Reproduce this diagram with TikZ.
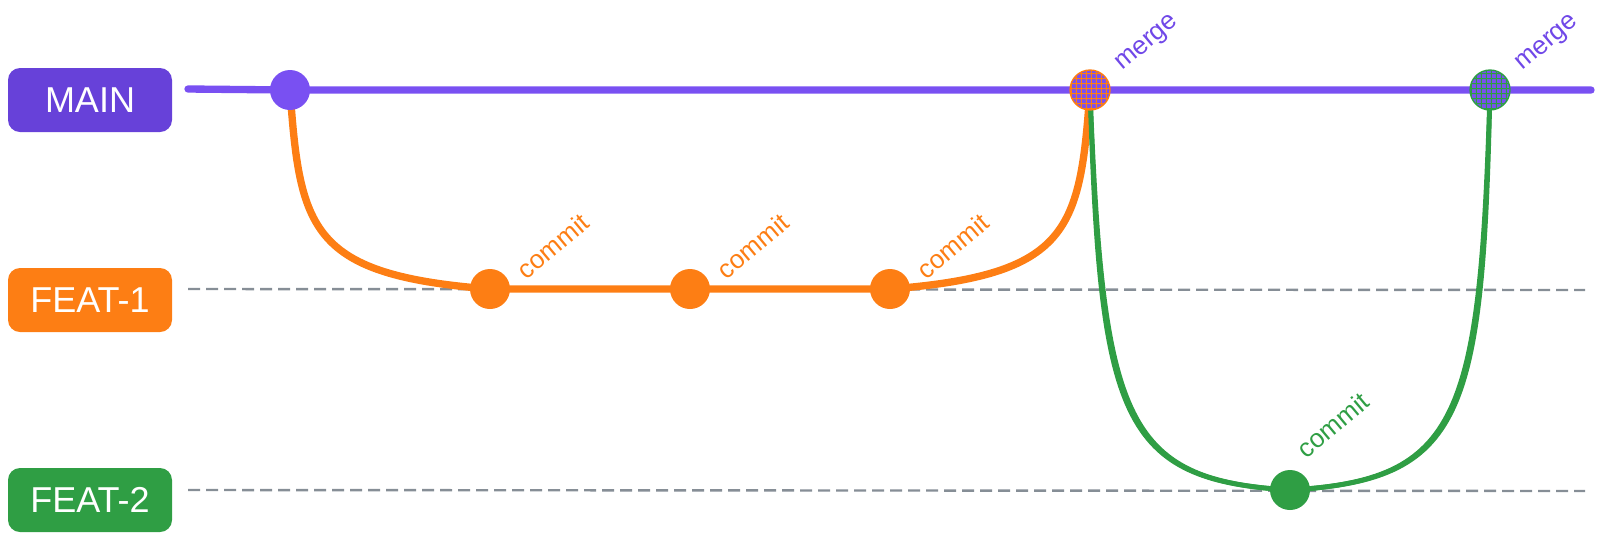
\documentclass[tikz,border=0pt]{standalone}
\usepackage{fontspec}
\setmainfont{Liberation Sans}
\usetikzlibrary{patterns.meta,backgrounds}

\definecolor{mainc}{HTML}{7950F2}
\definecolor{mainbox}{HTML}{6741D9}
\definecolor{feata}{HTML}{FD7E14}
\definecolor{featb}{HTML}{2F9E44}
\definecolor{guide}{HTML}{868E96}
\definecolor{mergetxt}{HTML}{7048E8}

\begin{document}
\begin{tikzpicture}[x=0.75pt,y=0.75pt,yscale=-1,xscale=1,
    branchbox/.style={rounded corners=9pt, minimum width=123pt, minimum height=48pt, inner sep=0pt, text=white, font=\fontsize{27}{32}\selectfont},
    commitdot/.style={circle, minimum size=30pt, inner sep=0pt},
    mergedot/.style={commitdot, preaction={fill=mainc}, pattern={Hatch[distance=4pt, line width=0.9pt]}, line width=1pt},
    tagtext/.style={rotate=40, inner sep=0.75pt, font=\fontsize{19.5}{23}\selectfont},
    guideline/.style={draw=guide, line width=1.8pt, dash pattern=on 9pt off 4.5pt},
    lane/.style={line width=5.5pt, line cap=round}]
        \useasboundingbox (0,0) rectangle (1601,540);

        % Text Node
        \node [branchbox, fill=mainbox] (main) at (90,100) {MAIN};
        % Text Node
        \node [branchbox, fill=feata] (feat1) at (90,300) {FEAT-1};
        % Text Node
        \node [branchbox, fill=featb] (feat2) at (90,500) {FEAT-2};

        % ends of the lanes
        \coordinate (ms) at (188,89);
        \coordinate (me) at (1591,90);
        \coordinate (f1s) at (188,289);
        \coordinate (f1e) at (1585,290);
        \coordinate (f2s) at (188,490);
        \coordinate (f2e) at (1585,491);

        %Shape: Circle
        \node [commitdot, fill=mainc] (m0) at (290,90) {};
        %Shape: Circle
        \node [commitdot, fill=feata] (c1) at (490,289) {};
        \node [commitdot, fill=feata] (c2) at (690,289) {};
        \node [commitdot, fill=feata] (c3) at (890,289) {};
        %Shape: Circle
        \node [commitdot, fill=featb] (c4) at (1290,490) {};
        %Shape: Circle (merge)
        \node [mergedot, pattern color=feata, draw=feata] (mg1) at (1090,90) {};
        \node [mergedot, pattern color=featb, draw=featb] (mg2) at (1490,90) {};

        \begin{scope}[on background layer]
        %Straight Lines
        \draw [guideline] (f1s) -- (f1e);
        \draw [guideline] (f2s) -- (f2e);
        %Shape: Boxed Bezier Curve
        \draw [lane, feata] (m0.center) .. controls (300,230) and (310,275) .. (c1.center) -- (c2.center) -- (c3.center) .. controls (1070,275) and (1080,230) .. (mg1.center);
        %Shape: Boxed Bezier Curve
        \draw [lane, featb, line width=3.6pt] (mg1.center) .. controls (1100,420) and (1120,480) .. (c4.center) .. controls (1460,480) and (1480,420) .. (mg2.center);
        \draw [lane, featb, line width=3.6pt, xshift=2.2pt] (mg1.center) .. controls (1100,420) and (1120,480) .. (c4.center) .. controls (1460,480) and (1480,420) .. (mg2.center);
        %Straight Lines
        \draw [lane, mainc] (ms) -- (m0.center) -- (mg1.center) -- (mg2.center) -- (me);
        \end{scope}

        % Text Node
        \node [tagtext, text=feata] (t1) at (553,246) {commit};
        \node [tagtext, text=feata] (t2) at (753,246) {commit};
        \node [tagtext, text=feata] (t3) at (953,246) {commit};
        % Text Node
        \node [tagtext, text=featb] (t4) at (1333,425) {commit};
        % Text Node
        \node [tagtext, text=mergetxt] (t5) at (1148,44) {merge};
        \node [tagtext, text=mergetxt] (t6) at (1548,44) {merge};

    \end{tikzpicture}
\end{document}
